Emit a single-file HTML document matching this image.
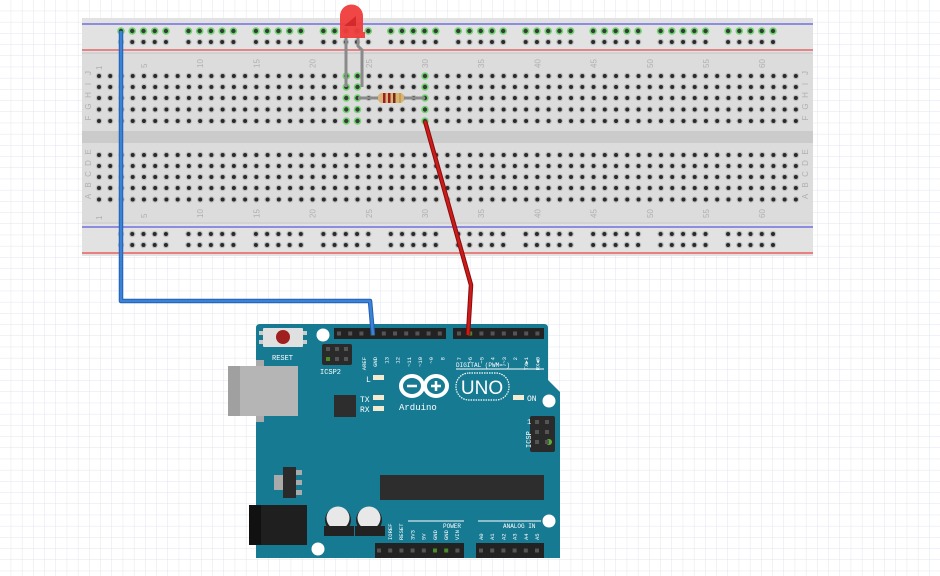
<!DOCTYPE html>
<html><head><meta charset="utf-8"><style>
html,body{margin:0;padding:0;width:940px;height:576px;overflow:hidden;background:#fff}
svg{display:block}
</style></head><body>
<svg id="s" width="940" height="576" viewBox="0 0 940 576" xmlns="http://www.w3.org/2000/svg" font-family="Liberation Mono, monospace">
<defs>
<pattern id="g" width="11.2" height="11.2" patternUnits="userSpaceOnUse">
<path d="M11.2 0V11.2M0 11.2H11.2" stroke="#dfe5ee" stroke-width="1" fill="none"/>
</pattern>
</defs>
<rect width="940" height="576" fill="url(#g)"/>
<!-- breadboard -->
<rect x="82" y="18" width="731" height="238" fill="#dcdcdc"/>
<rect x="82" y="18" width="731" height="35" fill="#e2e2e2"/>
<rect x="82" y="222" width="731" height="34" fill="#e2e2e2"/>
<rect x="82" y="131" width="731" height="12" fill="#cbcbcb"/>
<line x1="82" y1="24" x2="813" y2="24" stroke="#5a5ae0" stroke-width="1.2"/>
<line x1="82" y1="50" x2="813" y2="50" stroke="#e05050" stroke-width="1.2"/>
<line x1="82" y1="53" x2="813" y2="53" stroke="#c4c4c4" stroke-width="1"/>
<line x1="82" y1="223" x2="813" y2="223" stroke="#c4c4c4" stroke-width="1"/>
<line x1="82" y1="227" x2="813" y2="227" stroke="#5a5ae0" stroke-width="1.2"/>
<line x1="82" y1="253" x2="813" y2="253" stroke="#e88080" stroke-width="2"/>
<g id="holes"></g>
<g id="lbl" fill="#b0b0b0" font-size="8" font-family="Liberation Sans, sans-serif"></g>
<!-- LED -->
<path d="M346 36V87M358 36L358 46 362 50V87" stroke="#8a8a8a" stroke-width="3" fill="none"/>
<path d="M340 38V16a11.5 11.5 0 0 1 23 0V32h2v6z" fill="#f03c3c" opacity="0.95"/>
<path d="M344 26l12-10v10z" fill="#c82020" opacity="0.7"/>
<!-- resistor -->
<line x1="358" y1="98" x2="425" y2="98" stroke="#8a8a8a" stroke-width="3"/>
<rect x="378" y="93" width="26" height="10" rx="4" fill="#d9b47a"/>
<rect x="383" y="93" width="2.5" height="10" fill="#a02020"/>
<rect x="388" y="93" width="2.5" height="10" fill="#a02020"/>
<rect x="393" y="93" width="2.5" height="10" fill="#7a2a10"/>
<rect x="399" y="93" width="2" height="10" fill="#c8a040"/>
<!-- Arduino -->
<path d="M256 328q0-4 4-4h284q4 0 4 4v52l12 12v166h-304z" fill="#177a93"/>
<rect x="263" y="328" width="40" height="19" rx="1" fill="#e0e0e0"/>
<rect x="259" y="331" width="4" height="4" fill="#ccc"/><rect x="259" y="340" width="4" height="4" fill="#ccc"/>
<rect x="303" y="331" width="4" height="4" fill="#ccc"/><rect x="303" y="340" width="4" height="4" fill="#ccc"/>
<circle cx="283" cy="337" r="7" fill="#a02020"/>
<text x="272" y="360" fill="#fff" font-size="7">RESET</text>
<circle cx="323" cy="335" r="6.5" fill="#fff"/>
<circle cx="318" cy="549" r="6.5" fill="#fff"/>
<circle cx="549" cy="401" r="6.5" fill="#fff"/>
<circle cx="549" cy="521" r="6.5" fill="#fff"/>
<rect x="334" y="328" width="112" height="11" fill="#222"/>
<rect x="453" y="328" width="91" height="11" fill="#222"/>
<rect x="322" y="344" width="30" height="21" rx="2" fill="#2a2a2a"/>
<text x="320" y="374" fill="#fff" font-size="7">ICSP2</text>
<rect x="530" y="416" width="25" height="36" rx="2" fill="#2a2a2a"/>
<circle cx="549" cy="442" r="3" fill="#5ab030"/>
<text x="527" y="424" fill="#fff" font-size="7">1</text>
<text x="0" y="0" fill="#fff" font-size="7" transform="translate(531,448) rotate(-90)">ICSP</text>
<rect x="228" y="366" width="70" height="50" fill="#b5b5b5"/>
<rect x="228" y="366" width="12" height="50" fill="#a0a0a0"/>
<rect x="256" y="360" width="8" height="6" fill="#aaa"/><rect x="256" y="416" width="8" height="6" fill="#aaa"/>
<rect x="334" y="395" width="22" height="22" fill="#2d2d2d"/>
<text x="366" y="382" fill="#fff" font-size="8">L</text>
<text x="360" y="402" fill="#fff" font-size="8">TX</text>
<text x="360" y="412" fill="#fff" font-size="8">RX</text>
<rect x="373" y="375" width="11" height="5" fill="#f3ead0"/>
<rect x="373" y="395" width="11" height="5" fill="#f3ead0"/>
<rect x="373" y="406" width="11" height="5" fill="#f3ead0"/>
<rect x="513" y="395" width="11" height="5" fill="#f3ead0"/>
<text x="527" y="401" fill="#fff" font-size="8">ON</text>
<text x="456" y="367" fill="#fff" font-size="6">DIGITAL (PWM=~)</text>
<line x1="456" y1="369" x2="544" y2="369" stroke="#fff" stroke-width="1"/>
<g fill="none" stroke="#fff" stroke-width="4">
<ellipse cx="412" cy="386" rx="11" ry="10"/><ellipse cx="436" cy="386" rx="11" ry="10"/>
</g>
<path d="M407 386h10M431 386h10M436 381v10" stroke="#fff" stroke-width="2.5"/>
<rect x="456" y="373" width="53" height="27" rx="13" fill="none" stroke="#fff" stroke-width="1.2" stroke-dasharray="1.5 1"/>
<text x="482" y="394" fill="#fff" font-size="19" text-anchor="middle" font-family="Liberation Sans, sans-serif">UNO</text>
<text x="399" y="410" fill="#fff" font-size="9">Arduino</text>
<rect x="380" y="475" width="164" height="25" fill="#2d2d2d"/>
<rect x="274" y="475" width="9" height="15" fill="#aaa"/>
<rect x="296" y="470" width="6" height="5" fill="#aaa"/><rect x="296" y="480" width="6" height="5" fill="#aaa"/><rect x="296" y="490" width="6" height="5" fill="#aaa"/>
<rect x="283" y="467" width="13" height="31" fill="#2a2a2a"/>
<rect x="249" y="505" width="58" height="40" fill="#1f1f1f"/>
<rect x="249" y="505" width="12" height="40" fill="#111"/>
<circle cx="338" cy="520" r="13" fill="#222"/><circle cx="338" cy="518" r="11.5" fill="#e8e8e8"/>
<circle cx="369" cy="520" r="13" fill="#222"/><circle cx="369" cy="518" r="11.5" fill="#e8e8e8"/>
<rect x="324" y="526" width="30" height="10" fill="#222"/><rect x="355" y="526" width="30" height="10" fill="#222"/>
<rect x="375" y="543" width="89" height="15" fill="#222"/>
<rect x="476" y="543" width="68" height="15" fill="#222"/>
<line x1="408" y1="521" x2="464" y2="521" stroke="#fff"/>
<line x1="478" y1="521" x2="541" y2="521" stroke="#fff"/>
<text x="443" y="528" fill="#fff" font-size="6">POWER</text>
<text x="503" y="528" fill="#fff" font-size="6">ANALOG IN</text>
<g id="pins" fill="#fff" font-size="5.5"></g>
<!-- wires -->
<path d="M121 31V301H370L373 335" stroke="#1f5fb0" stroke-width="4.5" fill="none" stroke-linejoin="round"/>
<path d="M121 31V301H370L373 335" stroke="#3c82d8" stroke-width="2.5" fill="none" stroke-linejoin="round"/>
<path d="M425 121L471 285 468 335" stroke="#8a0c0c" stroke-width="4.5" fill="none" stroke-linejoin="round"/>
<path d="M425 121L471 285 468 335" stroke="#cc1b1b" stroke-width="2.5" fill="none" stroke-linejoin="round"/>
</svg>
<script>
(function(){
var NS="http://www.w3.org/2000/svg";
var H=document.getElementById('holes'),L=document.getElementById('lbl'),P=document.getElementById('pins');
function hole(x,y,g){var c=document.createElementNS(NS,'circle');c.setAttribute('cx',x);c.setAttribute('cy',y);c.setAttribute('r',g?3:2.6);c.setAttribute('fill',g?'#3a3a3a':'#2a2a2a');if(g){c.setAttribute('stroke','#6fd66f');c.setAttribute('stroke-width','1.6');}else{c.setAttribute('stroke','#bdbdbd');c.setAttribute('stroke-width','1.2');}H.appendChild(c);}
function txt(par,x,y,s,rot,anchor){var t=document.createElementNS(NS,'text');t.setAttribute('x',0);t.setAttribute('y',0);t.setAttribute('transform','translate('+x+','+y+') rotate('+(rot||0)+')');if(anchor)t.setAttribute('text-anchor',anchor);t.textContent=s;par.appendChild(t);}
var p=11.24,x0=99;
var rowT=[76,87,98,109.5,121],rowB=[155,166,177,188,199.5];
for(var c=0;c<63;c++){var x=x0+c*p;var col=c+1;
 for(var r=0;r<5;r++){var g=(col==23||col==24||col==30);hole(x,rowT[r],g);hole(x,rowB[r],false);}
 if(col==1||col%5==0){txt(L,x+3,col==1?70:68,String(col),-90);txt(L,x+3,col==1?220:218,String(col),-90);}
}
var lt="JIHGF",lb="EDCBA";
for(var r=0;r<5;r++){txt(L,91,rowT[r]-3,lt[r],-90,'middle');txt(L,808,rowT[r]-3,lt[r],-90,'middle');txt(L,91,rowB[r]-3,lb[r],-90,'middle');txt(L,808,rowB[r]-3,lb[r],-90,'middle');}
for(var g=0;g<10;g++)for(var k=0;k<5;k++){var x=121+g*67.45+k*p;hole(x,31,true);hole(x,42,false);hole(x,234,false);hole(x,245,false);}
function pin(x,y,g){var r=document.createElementNS(NS,'rect');r.setAttribute('x',x-2);r.setAttribute('y',y-2);r.setAttribute('width',4);r.setAttribute('height',4);r.setAttribute('fill',g?'#4a8a2a':'#555');H.parentNode.insertBefore(r,P);}
for(var i=0;i<10;i++)pin(339+i*11.2,333.5,i==3);
for(var i=0;i<8;i++)pin(459+i*11.2,333.5,i==1);
for(var i=0;i<8;i++)pin(379+i*11.2,550.5,i==5||i==6);
for(var i=0;i<6;i++)pin(481+i*11.2,550.5,false);
for(var i=0;i<3;i++)for(var j=0;j<2;j++)pin(328+i*9,349+j*10,i==0&&j==1);
for(var i=0;i<2;i++)for(var j=0;j<3;j++)pin(537+i*10,422+j*10,false);
var t1=["AREF","GND","13","12","~11","~10","~9","8"];
for(var i=0;i<8;i++)txt(P,364+i*11.2+2,357,t1[i],-90,'end');
var t2=["7","~6","~5","4","~3","2","TX▶1","RX◀0"];
for(var i=0;i<8;i++)txt(P,459+i*11.2+2,357,t2[i],-90,'end');
var b1=["IOREF","RESET","3V3","5V","GND","GND","VIN"];
for(var i=0;i<7;i++)txt(P,390+i*11.2+2,540,b1[i],-90);
var b2=["A0","A1","A2","A3","A4","A5"];
for(var i=0;i<6;i++)txt(P,481+i*11.2+2,540,b2[i],-90);
})();
</script>
</body></html>
